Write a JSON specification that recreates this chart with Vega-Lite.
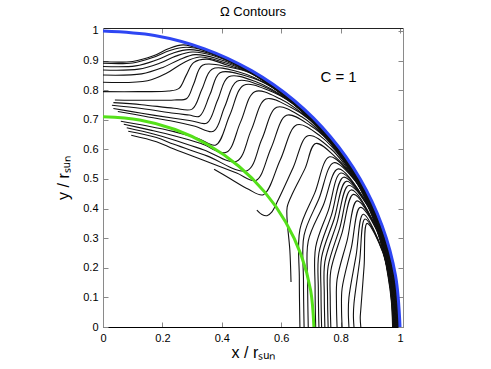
{
"$schema":"https://vega.github.io/schema/vega-lite/v6.json",
"width":300,"height":299,
"autosize":{"type":"none"},
"padding":{"left":103,"top":28,"right":88,"bottom":42},
"background":"white",
"config":{"view":{"stroke":null},"font":"Liberation Sans"},
"title":{"text":"Ω Contours","fontSize":13,"font":"Liberation Sans","fontWeight":"normal","color":"black","offset":6,"anchor":"middle"},
"datasets":{
"k":[
{"c":1,"x":0,"y":0.896},{"c":1,"x":0.1,"y":0.897},{"c":1,"x":0.17,"y":0.916},{"c":1,"x":0.22,"y":0.94},{"c":1,"x":0.27,"y":0.953},{"c":1,"x":0.34,"y":0.935},{"c":1,"x":0.498,"y":0.862},{"c":1,"x":0.64,"y":0.762},{"c":1,"x":0.704,"y":0.704},{"c":1,"x":0.762,"y":0.64},{"c":1,"x":0.815,"y":0.571},{"c":1,"x":0.862,"y":0.498},{"c":1,"x":0.902,"y":0.421},{"c":1,"x":0.935,"y":0.34},{"c":1,"x":0.961,"y":0.258},{"c":1,"x":0.98,"y":0.173},{"c":1,"x":0.991,"y":0.087},{"c":1,"x":0.995,"y":0},
{"c":2,"x":0,"y":0.891},{"c":2,"x":0.1,"y":0.892},{"c":2,"x":0.17,"y":0.911},{"c":2,"x":0.225,"y":0.934},{"c":2,"x":0.28,"y":0.945},{"c":2,"x":0.34,"y":0.934},{"c":2,"x":0.497,"y":0.861},{"c":2,"x":0.639,"y":0.762},{"c":2,"x":0.703,"y":0.703},{"c":2,"x":0.762,"y":0.639},{"c":2,"x":0.815,"y":0.57},{"c":2,"x":0.861,"y":0.497},{"c":2,"x":0.901,"y":0.42},{"c":2,"x":0.934,"y":0.34},{"c":2,"x":0.961,"y":0.257},{"c":2,"x":0.979,"y":0.173},{"c":2,"x":0.991,"y":0.087},{"c":2,"x":0.994,"y":0},
{"c":3,"x":0,"y":0.88},{"c":3,"x":0.11,"y":0.882},{"c":3,"x":0.18,"y":0.902},{"c":3,"x":0.235,"y":0.925},{"c":3,"x":0.29,"y":0.937},{"c":3,"x":0.36,"y":0.924},{"c":3,"x":0.497,"y":0.861},{"c":3,"x":0.639,"y":0.761},{"c":3,"x":0.703,"y":0.703},{"c":3,"x":0.761,"y":0.639},{"c":3,"x":0.814,"y":0.57},{"c":3,"x":0.861,"y":0.497},{"c":3,"x":0.901,"y":0.42},{"c":3,"x":0.934,"y":0.34},{"c":3,"x":0.96,"y":0.257},{"c":3,"x":0.979,"y":0.173},{"c":3,"x":0.99,"y":0.087},{"c":3,"x":0.994,"y":0},
{"c":4,"x":0,"y":0.868},{"c":4,"x":0.12,"y":0.871},{"c":4,"x":0.19,"y":0.891},{"c":4,"x":0.245,"y":0.915},{"c":4,"x":0.3,"y":0.929},{"c":4,"x":0.37,"y":0.917},{"c":4,"x":0.497,"y":0.86},{"c":4,"x":0.638,"y":0.761},{"c":4,"x":0.702,"y":0.702},{"c":4,"x":0.761,"y":0.638},{"c":4,"x":0.814,"y":0.57},{"c":4,"x":0.86,"y":0.497},{"c":4,"x":0.9,"y":0.42},{"c":4,"x":0.933,"y":0.34},{"c":4,"x":0.959,"y":0.257},{"c":4,"x":0.978,"y":0.172},{"c":4,"x":0.989,"y":0.087},{"c":4,"x":0.993,"y":0},
{"c":5,"x":0,"y":0.851},{"c":5,"x":0.13,"y":0.855},{"c":5,"x":0.2,"y":0.876},{"c":5,"x":0.255,"y":0.902},{"c":5,"x":0.31,"y":0.92},{"c":5,"x":0.38,"y":0.908},{"c":5,"x":0.496,"y":0.86},{"c":5,"x":0.638,"y":0.76},{"c":5,"x":0.702,"y":0.702},{"c":5,"x":0.76,"y":0.638},{"c":5,"x":0.813,"y":0.569},{"c":5,"x":0.86,"y":0.496},{"c":5,"x":0.9,"y":0.42},{"c":5,"x":0.933,"y":0.34},{"c":5,"x":0.959,"y":0.257},{"c":5,"x":0.978,"y":0.172},{"c":5,"x":0.989,"y":0.087},{"c":5,"x":0.993,"y":0},
{"c":6,"x":0,"y":0.827},{"c":6,"x":0.15,"y":0.832},{"c":6,"x":0.215,"y":0.858},{"c":6,"x":0.27,"y":0.892},{"c":6,"x":0.325,"y":0.912},{"c":6,"x":0.4,"y":0.896},{"c":6,"x":0.496,"y":0.859},{"c":6,"x":0.638,"y":0.76},{"c":6,"x":0.702,"y":0.702},{"c":6,"x":0.76,"y":0.638},{"c":6,"x":0.813,"y":0.569},{"c":6,"x":0.859,"y":0.496},{"c":6,"x":0.899,"y":0.419},{"c":6,"x":0.932,"y":0.339},{"c":6,"x":0.958,"y":0.257},{"c":6,"x":0.977,"y":0.172},{"c":6,"x":0.988,"y":0.086},{"c":6,"x":0.992,"y":0},
{"c":7,"x":0,"y":0.795},{"c":7,"x":0.12,"y":0.795},{"c":7,"x":0.22,"y":0.797},{"c":7,"x":0.256,"y":0.806},{"c":7,"x":0.28,"y":0.85},{"c":7,"x":0.305,"y":0.893},{"c":7,"x":0.35,"y":0.905},{"c":7,"x":0.42,"y":0.884},{"c":7,"x":0.496,"y":0.859},{"c":7,"x":0.637,"y":0.759},{"c":7,"x":0.701,"y":0.701},{"c":7,"x":0.759,"y":0.637},{"c":7,"x":0.812,"y":0.569},{"c":7,"x":0.859,"y":0.496},{"c":7,"x":0.899,"y":0.419},{"c":7,"x":0.932,"y":0.339},{"c":7,"x":0.958,"y":0.257},{"c":7,"x":0.976,"y":0.172},{"c":7,"x":0.988,"y":0.086},{"c":7,"x":0.991,"y":0},
{"c":8,"x":0.04,"y":0.767},{"c":8,"x":0.14,"y":0.766},{"c":8,"x":0.24,"y":0.767},{"c":8,"x":0.282,"y":0.772},{"c":8,"x":0.305,"y":0.82},{"c":8,"x":0.335,"y":0.884},{"c":8,"x":0.424,"y":0.878},{"c":8,"x":0.495,"y":0.858},{"c":8,"x":0.637,"y":0.759},{"c":8,"x":0.701,"y":0.701},{"c":8,"x":0.759,"y":0.637},{"c":8,"x":0.812,"y":0.568},{"c":8,"x":0.858,"y":0.495},{"c":8,"x":0.898,"y":0.419},{"c":8,"x":0.931,"y":0.339},{"c":8,"x":0.957,"y":0.256},{"c":8,"x":0.976,"y":0.172},{"c":8,"x":0.987,"y":0.086},{"c":8,"x":0.991,"y":0},
{"c":9,"x":0.035,"y":0.758},{"c":9,"x":0.13,"y":0.751},{"c":9,"x":0.239,"y":0.739},{"c":9,"x":0.3,"y":0.736},{"c":9,"x":0.333,"y":0.803},{"c":9,"x":0.367,"y":0.871},{"c":9,"x":0.455,"y":0.862},{"c":9,"x":0.568,"y":0.811},{"c":9,"x":0.636,"y":0.759},{"c":9,"x":0.7,"y":0.7},{"c":9,"x":0.759,"y":0.636},{"c":9,"x":0.811,"y":0.568},{"c":9,"x":0.857,"y":0.495},{"c":9,"x":0.897,"y":0.418},{"c":9,"x":0.931,"y":0.339},{"c":9,"x":0.956,"y":0.256},{"c":9,"x":0.975,"y":0.172},{"c":9,"x":0.986,"y":0.086},{"c":9,"x":0.99,"y":0},
{"c":10,"x":0.03,"y":0.749},{"c":10,"x":0.13,"y":0.738},{"c":10,"x":0.239,"y":0.722},{"c":10,"x":0.29,"y":0.716},{"c":10,"x":0.325,"y":0.712},{"c":10,"x":0.36,"y":0.785},{"c":10,"x":0.394,"y":0.859},{"c":10,"x":0.482,"y":0.848},{"c":10,"x":0.568,"y":0.811},{"c":10,"x":0.636,"y":0.758},{"c":10,"x":0.7,"y":0.7},{"c":10,"x":0.758,"y":0.636},{"c":10,"x":0.811,"y":0.568},{"c":10,"x":0.857,"y":0.495},{"c":10,"x":0.897,"y":0.418},{"c":10,"x":0.93,"y":0.339},{"c":10,"x":0.956,"y":0.256},{"c":10,"x":0.975,"y":0.172},{"c":10,"x":0.986,"y":0.086},{"c":10,"x":0.99,"y":0},
{"c":11,"x":0.035,"y":0.738},{"c":11,"x":0.13,"y":0.722},{"c":11,"x":0.239,"y":0.705},{"c":11,"x":0.3,"y":0.696},{"c":11,"x":0.35,"y":0.689},{"c":11,"x":0.386,"y":0.767},{"c":11,"x":0.423,"y":0.845},{"c":11,"x":0.511,"y":0.83},{"c":11,"x":0.636,"y":0.758},{"c":11,"x":0.699,"y":0.699},{"c":11,"x":0.758,"y":0.636},{"c":11,"x":0.81,"y":0.567},{"c":11,"x":0.857,"y":0.495},{"c":11,"x":0.896,"y":0.418},{"c":11,"x":0.929,"y":0.338},{"c":11,"x":0.955,"y":0.256},{"c":11,"x":0.974,"y":0.172},{"c":11,"x":0.985,"y":0.086},{"c":11,"x":0.989,"y":0},
{"c":12,"x":0.05,"y":0.728},{"c":12,"x":0.14,"y":0.712},{"c":12,"x":0.239,"y":0.694},{"c":12,"x":0.31,"y":0.678},{"c":12,"x":0.372,"y":0.661},{"c":12,"x":0.41,"y":0.745},{"c":12,"x":0.451,"y":0.83},{"c":12,"x":0.538,"y":0.813},{"c":12,"x":0.635,"y":0.757},{"c":12,"x":0.699,"y":0.699},{"c":12,"x":0.757,"y":0.635},{"c":12,"x":0.81,"y":0.567},{"c":12,"x":0.856,"y":0.494},{"c":12,"x":0.896,"y":0.418},{"c":12,"x":0.929,"y":0.338},{"c":12,"x":0.955,"y":0.256},{"c":12,"x":0.973,"y":0.172},{"c":12,"x":0.985,"y":0.086},{"c":12,"x":0.988,"y":0},
{"c":13,"x":0.06,"y":0.695},{"c":13,"x":0.15,"y":0.679},{"c":13,"x":0.239,"y":0.66},{"c":13,"x":0.32,"y":0.637},{"c":13,"x":0.38,"y":0.615},{"c":13,"x":0.427,"y":0.716},{"c":13,"x":0.474,"y":0.817},{"c":13,"x":0.561,"y":0.798},{"c":13,"x":0.635,"y":0.757},{"c":13,"x":0.699,"y":0.699},{"c":13,"x":0.757,"y":0.635},{"c":13,"x":0.809,"y":0.567},{"c":13,"x":0.855,"y":0.494},{"c":13,"x":0.895,"y":0.417},{"c":13,"x":0.928,"y":0.338},{"c":13,"x":0.954,"y":0.256},{"c":13,"x":0.973,"y":0.171},{"c":13,"x":0.984,"y":0.086},{"c":13,"x":0.988,"y":0},
{"c":14,"x":0.07,"y":0.685},{"c":14,"x":0.16,"y":0.665},{"c":14,"x":0.239,"y":0.646},{"c":14,"x":0.33,"y":0.62},{"c":14,"x":0.415,"y":0.59},{"c":14,"x":0.463,"y":0.692},{"c":14,"x":0.511,"y":0.795},{"c":14,"x":0.596,"y":0.771},{"c":14,"x":0.698,"y":0.698},{"c":14,"x":0.756,"y":0.635},{"c":14,"x":0.809,"y":0.566},{"c":14,"x":0.855,"y":0.494},{"c":14,"x":0.895,"y":0.417},{"c":14,"x":0.928,"y":0.338},{"c":14,"x":0.954,"y":0.256},{"c":14,"x":0.972,"y":0.171},{"c":14,"x":0.983,"y":0.086},{"c":14,"x":0.987,"y":0},
{"c":15,"x":0.08,"y":0.673},{"c":15,"x":0.17,"y":0.652},{"c":15,"x":0.239,"y":0.632},{"c":15,"x":0.34,"y":0.598},{"c":15,"x":0.45,"y":0.56},{"c":15,"x":0.499,"y":0.665},{"c":15,"x":0.548,"y":0.77},{"c":15,"x":0.632,"y":0.742},{"c":15,"x":0.698,"y":0.698},{"c":15,"x":0.756,"y":0.634},{"c":15,"x":0.808,"y":0.566},{"c":15,"x":0.854,"y":0.493},{"c":15,"x":0.894,"y":0.417},{"c":15,"x":0.927,"y":0.338},{"c":15,"x":0.953,"y":0.255},{"c":15,"x":0.972,"y":0.171},{"c":15,"x":0.983,"y":0.086},{"c":15,"x":0.987,"y":0},
{"c":16,"x":0.085,"y":0.661},{"c":16,"x":0.18,"y":0.64},{"c":16,"x":0.239,"y":0.617},{"c":16,"x":0.35,"y":0.578},{"c":16,"x":0.485,"y":0.528},{"c":16,"x":0.535,"y":0.635},{"c":16,"x":0.585,"y":0.742},{"c":16,"x":0.669,"y":0.71},{"c":16,"x":0.755,"y":0.634},{"c":16,"x":0.808,"y":0.566},{"c":16,"x":0.854,"y":0.493},{"c":16,"x":0.894,"y":0.417},{"c":16,"x":0.927,"y":0.337},{"c":16,"x":0.952,"y":0.255},{"c":16,"x":0.971,"y":0.171},{"c":16,"x":0.982,"y":0.086},{"c":16,"x":0.986,"y":0},
{"c":17,"x":0.095,"y":0.648},{"c":17,"x":0.18,"y":0.626},{"c":17,"x":0.239,"y":0.601},{"c":17,"x":0.36,"y":0.555},{"c":17,"x":0.45,"y":0.52},{"c":17,"x":0.515,"y":0.495},{"c":17,"x":0.566,"y":0.605},{"c":17,"x":0.618,"y":0.715},{"c":17,"x":0.699,"y":0.68},{"c":17,"x":0.755,"y":0.633},{"c":17,"x":0.807,"y":0.565},{"c":17,"x":0.853,"y":0.493},{"c":17,"x":0.893,"y":0.416},{"c":17,"x":0.926,"y":0.337},{"c":17,"x":0.952,"y":0.255},{"c":17,"x":0.97,"y":0.171},{"c":17,"x":0.982,"y":0.086},{"c":17,"x":0.985,"y":0},
{"c":18,"x":0.374,"y":0.533},{"c":18,"x":0.43,"y":0.5},{"c":18,"x":0.49,"y":0.465},{"c":18,"x":0.54,"y":0.447},{"c":18,"x":0.597,"y":0.565},{"c":18,"x":0.653,"y":0.683},{"c":18,"x":0.733,"y":0.644},{"c":18,"x":0.807,"y":0.565},{"c":18,"x":0.853,"y":0.492},{"c":18,"x":0.893,"y":0.416},{"c":18,"x":0.925,"y":0.337},{"c":18,"x":0.951,"y":0.255},{"c":18,"x":0.97,"y":0.171},{"c":18,"x":0.981,"y":0.086},{"c":18,"x":0.985,"y":0},
{"c":19,"x":0.518,"y":0.395},{"c":19,"x":0.535,"y":0.38},{"c":19,"x":0.552,"y":0.376},{"c":19,"x":0.568,"y":0.388},{"c":19,"x":0.59,"y":0.43},{"c":19,"x":0.64,"y":0.538},{"c":19,"x":0.69,"y":0.646},{"c":19,"x":0.767,"y":0.602},{"c":19,"x":0.852,"y":0.492},{"c":19,"x":0.892,"y":0.416},{"c":19,"x":0.925,"y":0.337},{"c":19,"x":0.951,"y":0.255},{"c":19,"x":0.969,"y":0.171},{"c":19,"x":0.98,"y":0.086},{"c":19,"x":0.984,"y":0},
{"c":20,"x":0.633,"y":0.152},{"c":20,"x":0.629,"y":0.26},{"c":20,"x":0.62,"y":0.36},{"c":20,"x":0.62,"y":0.405},{"c":20,"x":0.64,"y":0.455},{"c":20,"x":0.68,"y":0.535},{"c":20,"x":0.716,"y":0.62},{"c":20,"x":0.785,"y":0.572},{"c":20,"x":0.852,"y":0.492},{"c":20,"x":0.892,"y":0.416},{"c":20,"x":0.924,"y":0.337},{"c":20,"x":0.95,"y":0.254},{"c":20,"x":0.969,"y":0.171},{"c":20,"x":0.98,"y":0.086},{"c":20,"x":0.984,"y":0},
{"c":21,"x":0.663,"y":0},{"c":21,"x":0.661,"y":0.165},{"c":21,"x":0.663,"y":0.33},{"c":21,"x":0.713,"y":0.453},{"c":21,"x":0.763,"y":0.575},{"c":21,"x":0.851,"y":0.492},{"c":21,"x":0.891,"y":0.416},{"c":21,"x":0.924,"y":0.336},{"c":21,"x":0.95,"y":0.254},{"c":21,"x":0.968,"y":0.171},{"c":21,"x":0.979,"y":0.086},{"c":21,"x":0.983,"y":0},
{"c":22,"x":0.677,"y":0},{"c":22,"x":0.675,"y":0.155},{"c":22,"x":0.677,"y":0.31},{"c":22,"x":0.727,"y":0.433},{"c":22,"x":0.777,"y":0.555},{"c":22,"x":0.851,"y":0.491},{"c":22,"x":0.891,"y":0.415},{"c":22,"x":0.923,"y":0.336},{"c":22,"x":0.949,"y":0.254},{"c":22,"x":0.968,"y":0.171},{"c":22,"x":0.979,"y":0.086},{"c":22,"x":0.982,"y":0},
{"c":23,"x":0.691,"y":0},{"c":23,"x":0.689,"y":0.145},{"c":23,"x":0.691,"y":0.29},{"c":23,"x":0.742,"y":0.412},{"c":23,"x":0.792,"y":0.534},{"c":23,"x":0.89,"y":0.415},{"c":23,"x":0.923,"y":0.336},{"c":23,"x":0.948,"y":0.254},{"c":23,"x":0.967,"y":0.171},{"c":23,"x":0.978,"y":0.086},{"c":23,"x":0.982,"y":0},
{"c":24,"x":0.716,"y":0},{"c":24,"x":0.714,"y":0.135},{"c":24,"x":0.716,"y":0.27},{"c":24,"x":0.759,"y":0.395},{"c":24,"x":0.801,"y":0.52},{"c":24,"x":0.889,"y":0.415},{"c":24,"x":0.922,"y":0.336},{"c":24,"x":0.948,"y":0.254},{"c":24,"x":0.966,"y":0.17},{"c":24,"x":0.977,"y":0.086},{"c":24,"x":0.981,"y":0},
{"c":25,"x":0.727,"y":0},{"c":25,"x":0.725,"y":0.125},{"c":25,"x":0.727,"y":0.25},{"c":25,"x":0.769,"y":0.378},{"c":25,"x":0.81,"y":0.506},{"c":25,"x":0.889,"y":0.415},{"c":25,"x":0.922,"y":0.336},{"c":25,"x":0.947,"y":0.254},{"c":25,"x":0.966,"y":0.17},{"c":25,"x":0.977,"y":0.086},{"c":25,"x":0.981,"y":0},
{"c":26,"x":0.736,"y":0},{"c":26,"x":0.734,"y":0.118},{"c":26,"x":0.736,"y":0.235},{"c":26,"x":0.778,"y":0.364},{"c":26,"x":0.819,"y":0.492},{"c":26,"x":0.888,"y":0.414},{"c":26,"x":0.921,"y":0.335},{"c":26,"x":0.947,"y":0.253},{"c":26,"x":0.965,"y":0.17},{"c":26,"x":0.976,"y":0.086},{"c":26,"x":0.98,"y":0},
{"c":27,"x":0.747,"y":0},{"c":27,"x":0.745,"y":0.11},{"c":27,"x":0.747,"y":0.22},{"c":27,"x":0.787,"y":0.349},{"c":27,"x":0.827,"y":0.478},{"c":27,"x":0.888,"y":0.414},{"c":27,"x":0.92,"y":0.335},{"c":27,"x":0.946,"y":0.253},{"c":27,"x":0.965,"y":0.17},{"c":27,"x":0.976,"y":0.086},{"c":27,"x":0.979,"y":0},
{"c":28,"x":0.758,"y":0},{"c":28,"x":0.756,"y":0.103},{"c":28,"x":0.758,"y":0.205},{"c":28,"x":0.797,"y":0.334},{"c":28,"x":0.835,"y":0.463},{"c":28,"x":0.92,"y":0.335},{"c":28,"x":0.945,"y":0.253},{"c":28,"x":0.964,"y":0.17},{"c":28,"x":0.975,"y":0.085},{"c":28,"x":0.979,"y":0},
{"c":29,"x":0.767,"y":0},{"c":29,"x":0.765,"y":0.095},{"c":29,"x":0.767,"y":0.19},{"c":29,"x":0.805,"y":0.319},{"c":29,"x":0.843,"y":0.448},{"c":29,"x":0.919,"y":0.335},{"c":29,"x":0.945,"y":0.253},{"c":29,"x":0.963,"y":0.17},{"c":29,"x":0.974,"y":0.085},{"c":29,"x":0.978,"y":0},
{"c":30,"x":0.788,"y":0},{"c":30,"x":0.786,"y":0.08},{"c":30,"x":0.788,"y":0.16},{"c":30,"x":0.822,"y":0.293},{"c":30,"x":0.855,"y":0.426},{"c":30,"x":0.919,"y":0.334},{"c":30,"x":0.944,"y":0.253},{"c":30,"x":0.963,"y":0.17},{"c":30,"x":0.974,"y":0.085},{"c":30,"x":0.978,"y":0},
{"c":31,"x":0.805,"y":0},{"c":31,"x":0.803,"y":0.065},{"c":31,"x":0.805,"y":0.13},{"c":31,"x":0.836,"y":0.267},{"c":31,"x":0.866,"y":0.404},{"c":31,"x":0.918,"y":0.334},{"c":31,"x":0.944,"y":0.253},{"c":31,"x":0.962,"y":0.17},{"c":31,"x":0.973,"y":0.085},{"c":31,"x":0.977,"y":0},
{"c":32,"x":0.828,"y":0},{"c":32,"x":0.826,"y":0.05},{"c":32,"x":0.828,"y":0.1},{"c":32,"x":0.852,"y":0.241},{"c":32,"x":0.876,"y":0.381},{"c":32,"x":0.943,"y":0.253},{"c":32,"x":0.962,"y":0.17},{"c":32,"x":0.973,"y":0.085},{"c":32,"x":0.976,"y":0},
{"c":33,"x":0.845,"y":0},{"c":33,"x":0.843,"y":0.04},{"c":33,"x":0.845,"y":0.08},{"c":33,"x":0.864,"y":0.223},{"c":33,"x":0.882,"y":0.365},{"c":33,"x":0.943,"y":0.252},{"c":33,"x":0.961,"y":0.169},{"c":33,"x":0.972,"y":0.085},{"c":33,"x":0.976,"y":0},
{"c":34,"x":0.868,"y":0},{"c":34,"x":0.866,"y":0.03},{"c":34,"x":0.868,"y":0.06},{"c":34,"x":0.879,"y":0.205},{"c":34,"x":0.889,"y":0.35},{"c":34,"x":0.942,"y":0.252},{"c":34,"x":0.96,"y":0.169},{"c":34,"x":0.971,"y":0.085},{"c":34,"x":0.975,"y":0}
],
"circ":[
{"c":"g","x":0,"y":0.71},{"c":"g","x":0.1233,"y":0.6992},{"c":"g","x":0.2428,"y":0.6672},{"c":"g","x":0.355,"y":0.6149},{"c":"g","x":0.4564,"y":0.5439},{"c":"g","x":0.5439,"y":0.4564},{"c":"g","x":0.6149,"y":0.355},{"c":"g","x":0.6672,"y":0.2428},{"c":"g","x":0.6992,"y":0.1233},{"c":"g","x":0.71,"y":0},
{"c":"b","x":0,"y":1},{"c":"b","x":0.1736,"y":0.9848},{"c":"b","x":0.342,"y":0.9397},{"c":"b","x":0.5,"y":0.866},{"c":"b","x":0.6428,"y":0.766},{"c":"b","x":0.766,"y":0.6428},{"c":"b","x":0.866,"y":0.5},{"c":"b","x":0.9397,"y":0.342},{"c":"b","x":0.9848,"y":0.1736},{"c":"b","x":1,"y":0}
],
"lab":[{"x":0.793,"y":0.845,"t":"C = 1"}]
},
"layer":[
{"data":{"name":"k"},
 "mark":{"type":"line","interpolate":"catmull-rom","strokeWidth":1.1,"color":"#111111"},
 "encoding":{
  "x":{"field":"x","type":"quantitative","scale":{"domain":[0,1.01],"nice":false,"zero":false},
       "axis":{"orient":"bottom","values":[0,0.2,0.4,0.6,0.8,1],"format":"~g","grid":false,"labelFlush":false,
               "labelFont":"Liberation Sans","labelFontSize":11,"labelColor":"black","labelPadding":10,
               "tickSize":-5,"tickColor":"#888888","domainColor":"#000000",
               "title":"x / rₛᵤₙ","titleFont":"Liberation Sans","titleFontSize":16,"titleFontWeight":"normal","titleColor":"black","titlePadding":1}},
  "y":{"field":"y","type":"quantitative","scale":{"domain":[0,1.01],"nice":false,"zero":false},
       "axis":{"orient":"left","values":[0,0.1,0.2,0.3,0.4,0.5,0.6,0.7,0.8,0.9,1],"format":"~g","grid":false,"labelFlush":false,
               "labelFont":"Liberation Sans","labelFontSize":11,"labelColor":"black","labelPadding":10,
               "tickSize":-5,"tickColor":"#888888","domainColor":"#8a8a8a",
               "title":"y / rₛᵤₙ","titleFont":"Liberation Sans","titleFontSize":16,"titleFontWeight":"normal","titleColor":"black","titlePadding":11}},
  "detail":{"field":"c","type":"nominal"},
  "order":{"value":null}
 }},
{"data":{"name":"circ"},
 "mark":{"type":"line","interpolate":"catmull-rom","strokeWidth":3},
 "encoding":{
  "x":{"field":"x","type":"quantitative","scale":{"domain":[0,1.01],"nice":false,"zero":false},
       "axis":{"orient":"top","values":[0,0.2,0.4,0.6,0.8,1],"labels":false,"title":null,"grid":false,"tickSize":-5,"tickColor":"#888888","domainColor":"#222222"}},
  "y":{"field":"y","type":"quantitative","scale":{"domain":[0,1.01],"nice":false,"zero":false},
       "axis":{"orient":"right","values":[0,0.1,0.2,0.3,0.4,0.5,0.6,0.7,0.8,0.9,1],"labels":false,"title":null,"grid":false,"tickSize":-5,"tickColor":"#888888","domainColor":"#8a8a8a"}},
  "color":{"field":"c","type":"nominal","scale":{"domain":["g","b"],"range":["#55e01a","#2e46f3"]},"legend":null},
  "order":{"value":null}
 }},
{"data":{"name":"lab"},
 "mark":{"type":"text","font":"Liberation Sans","fontSize":15,"color":"black","align":"center","baseline":"middle"},
 "encoding":{
  "x":{"field":"x","type":"quantitative","axis":null},
  "y":{"field":"y","type":"quantitative","axis":null},
  "text":{"field":"t"}
 }}
],
"resolve":{"axis":{"x":"independent","y":"independent"}}
}
